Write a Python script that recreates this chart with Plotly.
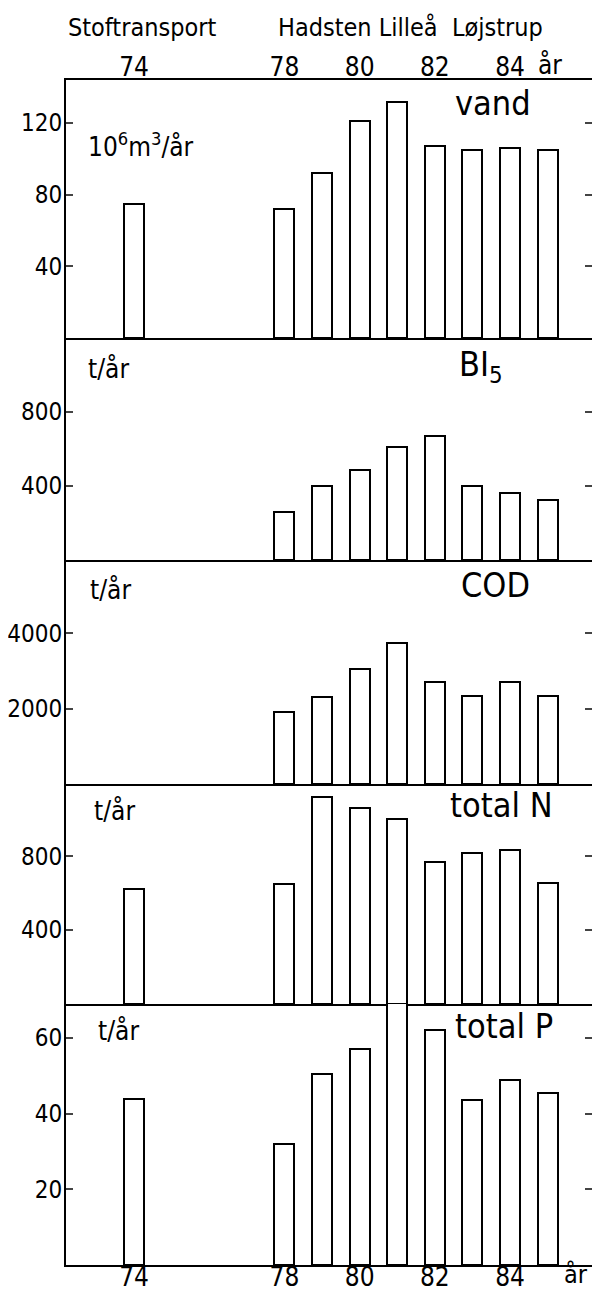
import plotly.graph_objects as go

FONT = "DejaVu Sans Condensed, Roboto, sans-serif"

years_all = [74, 78, 79, 80, 81, 82, 83, 84, 85]
years_late = [78, 79, 80, 81, 82, 83, 84, 85]

vand = [75, 72, 92, 121, 132, 107, 105, 106, 105]
bi5 = [260, 400, 485, 610, 670, 400, 360, 325]
cod = [1900, 2300, 3050, 3750, 2700, 2350, 2700, 2350]
total_n = [620, 650, 1120, 1060, 1000, 770, 815, 835, 655]
total_p = [44, 32, 50.5, 57, 70, 62, 43.5, 49, 45.5]

year_ticks = [74, 78, 80, 82, 84]
year_labels = ["74", "78", "80", "82", "84"]

panels = [
    # x, y, name, unit label, y range top, y ticks
    (years_all, vand, "vand", "10<sup>6</sup>m<sup>3</sup>/år", 144, [40, 80, 120]),
    (years_late, bi5, "BI<sub>5</sub>", "t/år", 1200, [400, 800]),
    (years_late, cod, "COD", "t/år", 5950, [2000, 4000]),
    (years_all, total_n, "total N", "t/år", 1190, [400, 800]),
    (years_all, total_p, "total P", "t/år", 69, [20, 40, 60]),
]

# page body has an 8px margin, so the figure is shrunk to sit inside the window
OFF = 8
WIN_W, WIN_H = 600, 1291
LEFT, RIGHT, TOP, BOTTOM = 66, 592, 80, 1265
edges = [80, 338, 560, 784, 1004, 1265]


def px(x, y):
    # reference pixel -> paper fractions
    return (x - LEFT) / (RIGHT - LEFT), (BOTTOM - y) / (BOTTOM - TOP)


fig = go.Figure()
layout = {}
for i, (xs, ys, name, unit, ytop, yticks) in enumerate(panels):
    n = i + 1
    sfx = "" if n == 1 else str(n)
    fig.add_trace(go.Bar(
        x=xs, y=ys, width=0.53,
        marker=dict(color="white", line=dict(color="black", width=2)),
        xaxis="x" + sfx, yaxis="y" + sfx,
        cliponaxis=False, showlegend=False,
    ))
    d0 = px(0, edges[i + 1])[1]
    d1 = px(0, edges[i])[1]
    layout["yaxis" + sfx] = dict(
        domain=[d0, d1], range=[0, ytop], anchor="x" + sfx,
        tickvals=yticks, ticks="inside", ticklen=7, tickwidth=2,
        showline=True, linewidth=2, linecolor="black", mirror="ticks",
        showgrid=False, zeroline=False, automargin=False,
        ticklabelstandoff=-3,
        tickfont=dict(size=24, color="black", family=FONT),
    )
    xa = dict(
        range=[72.19, 86.18], anchor="y" + sfx,
        showline=True, linewidth=2, linecolor="black", mirror=(n == 1),
        showgrid=False, zeroline=False, ticks="", automargin=False,
        tickvals=year_ticks, ticktext=year_labels,
        tickfont=dict(size=26, color="black", family=FONT),
        showticklabels=False,
    )
    if n == 1:
        xa.update(side="top", showticklabels=True, ticklabelstandoff=-8)
    if n == 5:
        xa.update(showticklabels=True, ticklabelstandoff=-12)
    layout["xaxis" + sfx] = xa

label_pos = [(453, 103), (457, 366), (459, 585), (448, 805), (453, 1026)]
unit_pos = [(86, 145), (86, 369), (88, 590), (92, 811), (96, 1031)]
ann = []
for (xs, ys, name, unit, ytop, yticks), lp, up in zip(panels, label_pos, unit_pos):
    x, y = px(*lp)
    ann.append(dict(text=name, x=x, y=y, xref="paper", yref="paper", xanchor="left",
                    yanchor="middle", showarrow=False,
                    font=dict(size=34, color="black", family=FONT)))
    x, y = px(*up)
    ann.append(dict(text=unit, x=x, y=y, xref="paper", yref="paper", xanchor="left",
                    yanchor="middle", showarrow=False,
                    font=dict(size=26, color="black", family=FONT)))

for text, p, size in [("Stoftransport", (142, 27), 25),
                      ("Hadsten Lilleå  Løjstrup", (410, 27), 25),
                      ("år", (550, 65), 26),
                      ("år", (576, 1275), 25)]:
    x, y = px(*p)
    ann.append(dict(text=text, x=x, y=y, xref="paper", yref="paper", xanchor="center",
                    yanchor="middle", showarrow=False,
                    font=dict(size=size, color="black", family=FONT)))

fig.update_layout(
    width=WIN_W - OFF, height=WIN_H - OFF,
    margin=dict(l=LEFT - OFF, r=WIN_W - RIGHT, t=TOP - OFF, b=WIN_H - BOTTOM,
                autoexpand=False),
    paper_bgcolor="white", plot_bgcolor="white",
    font=dict(family=FONT, color="black"),
    annotations=ann,
    bargap=0,
    **layout,
)

fig.write_html("out.html")
